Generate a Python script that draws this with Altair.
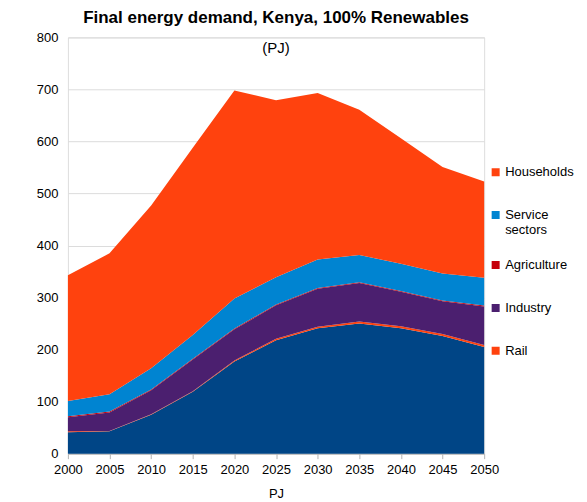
import altair as alt
import pandas as pd

years = [2000, 2005, 2010, 2015, 2020, 2025, 2030, 2035, 2040, 2045, 2050]
transport = [41, 43, 75, 119, 177, 218, 241, 250, 241, 226, 205]
rail = [2, 0.5, 0.5, 1, 2, 3, 3, 4, 4, 4, 4]
industry = [27, 35.5, 46.5, 61, 60, 64, 73, 74, 66, 63, 74]
agriculture = [2, 2, 1.5, 1.5, 1.5, 1.5, 1.5, 1.5, 1.5, 1.5, 1.5]
service = [29, 33, 40.5, 45.5, 57.5, 52.5, 54.5, 52.5, 52.5, 51.5, 53.5]
households = [242, 271, 313, 360, 400, 340, 320, 279, 241, 205, 185]

sectors = ["Transport", "Rail", "Industry", "Agriculture", "Service sectors", "Households"]
colors = ["#004586", "#ff420e", "#4b1f6f", "#c5000b", "#0084d1", "#ff420e"]
legend_items = ["Households", "Service sectors", "Agriculture", "Industry", "Rail"]

series = [transport, rail, industry, agriculture, service, households]
rows = []
for i, (name, vals) in enumerate(zip(sectors, series)):
    for y, v in zip(years, vals):
        rows.append({"year": y, "sector": name, "value": v, "order": i})
df = pd.DataFrame(rows)

FONT = "Liberation Sans Narrow, Liberation Sans, Arial"

chart = alt.Chart(df).mark_area(opacity=1).encode(
    x=alt.X("year:Q", title="PJ",
            scale=alt.Scale(domain=[2000, 2050], nice=False, zero=False),
            axis=alt.Axis(values=years, format="d", grid=False, tickColor="#b3b3b3",
                          domainColor="#b3b3b3", tickSize=5, labelPadding=5,
                          labelOverlap=False, labelFlush=False,
                          labelFontSize=13, titleFontSize=13, titleFontWeight="normal",
                          titlePadding=11, labelColor="#000", titleColor="#000")),
    y=alt.Y("value:Q", stack="zero", title=None,
            scale=alt.Scale(domain=[0, 800], nice=False),
            axis=alt.Axis(values=list(range(0, 801, 100)), grid=True, gridColor="#dcdcdc",
                          domain=False, ticks=False, labelPadding=10, minExtent=55,
                          labelFontSize=13, labelColor="#000")),
    color=alt.Color("sector:N",
                    scale=alt.Scale(domain=sectors, range=colors),
                    legend=alt.Legend(
                        values=legend_items, title=None, orient="none",
                        legendX=422, legendY=120,
                        symbolType="square", symbolSize=64, symbolStrokeWidth=0,
                        labelFontSize=13, labelColor="#000", labelOffset=3,
                        rowPadding=13, clipHeight=30,
                        labelExpr="datum.label == 'Service sectors' ? ['Service', 'sectors'] : datum.label")),
    order=alt.Order("order:Q", sort="ascending"),
).properties(
    width=417, height=417,
    title=alt.TitleParams(
        text="Final energy demand, Kenya, 100% Renewables",
        subtitle="(PJ)", fontSize=17, fontWeight="bold", subtitleFontSize=15,
        subtitleColor="#000", color="#000", anchor="middle", offset=-26,
        subtitlePadding=14, font=FONT, subtitleFont=FONT),
    padding={"left": 5, "top": 1, "right": 5, "bottom": 5},
).configure_view(stroke=None).configure(font=FONT)

chart.save("out.html", embed_options={"renderer": "svg", "actions": False})
